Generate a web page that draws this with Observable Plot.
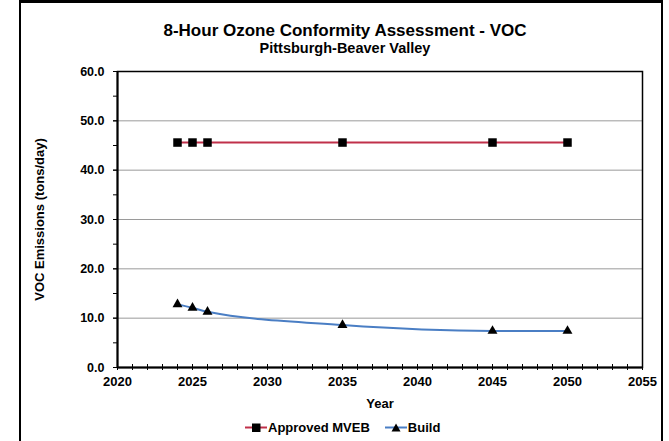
<!DOCTYPE html>
<html><head><meta charset="utf-8">
<script src="https://cdn.jsdelivr.net/npm/d3@7"></script>
<script src="https://cdn.jsdelivr.net/npm/@observablehq/plot@0.6"></script>
<style>
body{margin:0;background:#fff;font-family:"Liberation Sans",Arial,sans-serif;}
#wrap{position:relative;width:669px;height:441px;overflow:hidden;background:#fff;}
#border{position:absolute;left:19px;top:0;width:640px;height:470px;border-left:2.5px solid #000;border-right:2.5px solid #000;border-top:3px solid #000;pointer-events:none;}
#chart{position:absolute;left:0;top:0;}
.title{position:absolute;left:0;width:690px;text-align:center;font-weight:bold;color:#000;line-height:1;}
#legend{position:absolute;top:420px;left:245px;font-size:13px;font-weight:bold;display:flex;align-items:center;white-space:nowrap;line-height:1;}
#legend span{display:inline-flex;align-items:center;}
</style></head>
<body>
<div id="wrap">
  <div id="chart"></div>
  <div class="title" style="top:22px;font-size:17px;">8-Hour Ozone Conformity Assessment - VOC</div>
  <div class="title" style="top:41px;font-size:14.5px;">Pittsburgh-Beaver Valley</div>
  <div id="legend"></div>
  <div id="border"></div>
</div>
<script>
// Data
const years = [2024, 2025, 2026, 2035, 2045, 2050];
const mvebValues = [45.6, 45.6, 45.6, 45.6, 45.6, 45.6];
const buildValues = [12.8, 12.1, 11.3, 8.6, 7.4, 7.4];
const seriesNames = ["Approved MVEB", "Build"];
const yMajorTicks = [0, 10, 20, 30, 40, 50, 60];
const yMinorTicks = [0, 5, 10, 15, 20, 25, 30, 35, 40, 45, 50, 55, 60];
const xMajorTicks = [2020, 2025, 2030, 2035, 2040, 2045, 2050, 2055];
const xMinorTicks = d3.range(2020, 2056, 1);
const yTitle = "VOC Emissions (tons/day)";
const xTitle = "Year";

const mveb = years.map((y, i) => ({year: y, value: mvebValues[i]}));
const build = years.map((y, i) => ({year: y, value: buildValues[i]}));

const redColor = "#C0304A";
const blueColor = "#4A7EC4";

const chart = Plot.plot({
  width: 669,
  height: 441,
  marginLeft: 117,
  marginRight: 27,
  marginTop: 71,
  marginBottom: 74,
  style: {fontFamily: "Liberation Sans, Arial, sans-serif", fontSize: "12px", background: "transparent"},
  x: {domain: [2020, 2055]},
  y: {domain: [0, 60]},
  marks: [
    Plot.gridY([10, 20, 30, 40, 50], {stroke: "#9a9a9a", strokeOpacity: 1, strokeWidth: 1}),
    Plot.frame({stroke: "#000", strokeWidth: 1.5}),
    Plot.axisY(yMinorTicks, {tickSize: 4, tickFormat: () => "", label: null, strokeWidth: 1}),
    Plot.axisY(yMajorTicks, {tickSize: 4, tickPadding: 9, tickFormat: d => d.toFixed(1), fontWeight: "bold", fontSize: 12.5, label: null}),
    Plot.axisX(xMinorTicks, {tickSize: 3, tickFormat: () => "", label: null}),
    Plot.axisX(xMinorTicks, {tickSize: -3, tickFormat: () => "", label: null}),
    Plot.axisX(xMajorTicks, {tickSize: 0, tickPadding: 9, tickFormat: d => String(d), fontWeight: "bold", fontSize: 13, label: null}),
    Plot.ruleX([2020], {stroke: "#000", strokeWidth: 2}),
    Plot.ruleY([0], {stroke: "#000", strokeWidth: 2}),
    Plot.line(mveb, {x: "year", y: "value", stroke: redColor, strokeWidth: 2}),
    Plot.line(build, {x: "year", y: "value", stroke: blueColor, strokeWidth: 2, curve: "monotone-x"}),
    Plot.dot(mveb, {x: "year", y: "value", symbol: "square", r: 4.8, fill: "#000", stroke: "none"}),
    Plot.dot(build, {x: "year", y: "value", symbol: "triangle", r: 3.7, fill: "#000", stroke: "none"}),
    Plot.text([xTitle], {frameAnchor: "bottom", dy: 40, fontWeight: "bold", fontSize: 13}),
    Plot.text([yTitle], {frameAnchor: "left", dx: -78, rotate: -90, textAnchor: "middle", fontWeight: "bold", fontSize: 13})
  ]
});
document.getElementById("chart").appendChild(chart);

// Legend
const legend = document.getElementById("legend");
function item(name, color, shape, gap) {
  const s = document.createElement("span");
  s.style.marginRight = gap + "px";
  const sym = shape === "square"
    ? `<rect x="7" y="3.5" width="8.5" height="8.5" fill="#000"/>`
    : `<path d="M11,3.5 L15.5,11.5 L6.5,11.5 Z" fill="#000"/>`;
  s.innerHTML = `<svg width="22" height="15" style="margin-right:1px"><line x1="0" y1="7.5" x2="22" y2="7.5" stroke="${color}" stroke-width="2"/>${sym}</svg>${name}`;
  legend.appendChild(s);
}
item(seriesNames[0], redColor, "square", 15);
item(seriesNames[1], blueColor, "triangle", 0);
</script>
</body></html>
